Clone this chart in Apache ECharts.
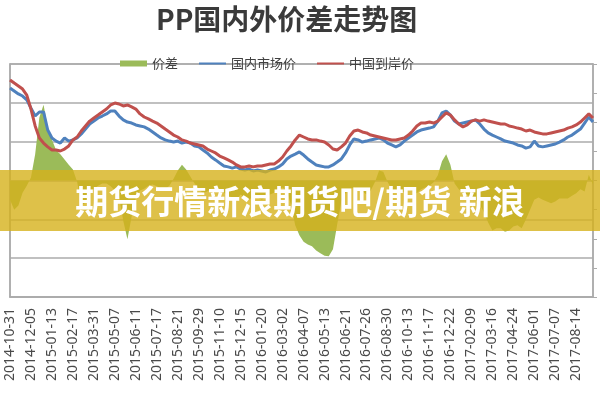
<!DOCTYPE html>
<html>
<head>
<meta charset="utf-8">
<script src="https://cdn.jsdelivr.net/npm/echarts@6/dist/echarts.min.js"></script>
<style>
  html, body { margin: 0; padding: 0; background: #fff; }
  #main { width: 600px; height: 400px; }
</style>
</head>
<body>
<div id="main"></div>
<script>
// 坐标轴上显示的日期（每 5 个数据点一个）
const tickLabels = [
  "2014-10-31", "2014-12-05", "2015-01-13", "2015-02-17", "2015-03-31",
  "2015-05-07", "2015-06-11", "2015-07-17", "2015-08-21", "2015-09-29",
  "2015-11-10", "2015-12-15", "2016-01-20", "2016-03-02", "2016-04-07",
  "2016-05-13", "2016-06-21", "2016-07-26", "2016-08-30", "2016-10-13",
  "2016-11-17", "2016-12-22", "2017-02-09", "2017-03-16", "2017-04-24",
  "2017-06-01", "2017-07-07", "2017-08-14",
];
const pointsPerLabel = 5;

// 国内市场价
const domestic = [
  10760, 10610, 10460, 10350, 10150, 9730, 9320, 9530, 9530, 8600,
  8190, 8030, 7930, 8190, 8030, 8090, 8190, 8400, 8650, 8910,
  9060, 9220, 9320, 9430, 9580, 9580, 9320, 9120, 9010, 8960,
  8860, 8810, 8760, 8650, 8500, 8340, 8190, 8090, 8030, 7980,
  8030, 7930, 7980, 7930, 7780, 7730, 7570, 7420, 7210, 7060,
  6900, 6750, 6700, 6640, 6700, 6590, 6540, 6590, 6490, 6540,
  6490, 6440, 6540, 6590, 6700, 6850, 7110, 7260, 7360, 7470,
  7310, 7110, 6950, 6800, 6750, 6700, 6700, 6800, 6950, 7110,
  7420, 7830, 8140, 8090, 7980, 8030, 8090, 8140, 8190, 8090,
  7930, 7830, 7730, 7830, 8030, 8190, 8340, 8500, 8600, 8650,
  8700, 8760, 9060, 9480, 9580, 9370, 9060, 8910, 8960, 9010,
  9060, 9120, 8910, 8650, 8450, 8340, 8240, 8140, 8030, 7980,
  7930, 7830, 7780, 7670, 7730, 8030, 7780, 7730, 7780, 7830,
  7880, 7980, 8090, 8240, 8340, 8500, 8650, 8960, 9270, 9010,
];

// 中国到岸价
const cifChina = [
  11180, 11020, 10870, 10710, 10400, 9680, 8810, 8190, 7930, 7730,
  7570, 7570, 7520, 7620, 7780, 8090, 8240, 8550, 8810, 9060,
  9220, 9370, 9530, 9680, 9890, 9990, 9940, 9840, 9890, 9790,
  9680, 9430, 9270, 9170, 9060, 8960, 8810, 8650, 8500, 8340,
  8240, 8090, 8030, 7930, 7880, 7830, 7780, 7620, 7520, 7420,
  7260, 7160, 7060, 6950, 6800, 6700, 6700, 6750, 6700, 6750,
  6750, 6800, 6850, 6850, 7000, 7210, 7520, 7780, 8090, 8340,
  8240, 8140, 8090, 8090, 8030, 7980, 7830, 7620, 7570, 7730,
  7930, 8290, 8550, 8600, 8500, 8450, 8340, 8290, 8240, 8190,
  8140, 8090, 8090, 8140, 8190, 8340, 8550, 8810, 8960, 8960,
  9010, 8960, 9060, 9270, 9480, 9370, 9120, 8910, 8760, 8860,
  9060, 9120, 9060, 9120, 9060, 9010, 8960, 8910, 8910, 8810,
  8760, 8700, 8650, 8550, 8600, 8500, 8450, 8400, 8400, 8450,
  8500, 8550, 8600, 8700, 8760, 8860, 9010, 9220, 9430, 9220,
];

// 价差（右轴）
const spread = [
  -330, -500, -430, -210, -90, 50, 450, 1080, 1300, 910,
  700, 520, 450, 360, 270, 190, -20, -430, -380, -210,
  -140, -90, -50, -50, -100, -170, -270, -690, -1010, -620,
  -290, -170, -140, -90, -70, -100, -140, -150, -90, 30,
  170, 270, 190, 70, -50, -140, -220, -190, -140, -140,
  -170, -210, -260, -290, -330, -240, -290, -330, -270, -290,
  -330, -290, -240, -210, -150, -120, -190, -410, -770, -940,
  -1050, -1100, -1130, -1200, -1250, -1290, -1300, -1180, -760, -360,
  -220, -150, -120, -150, -190, -240, -170, -30, 170, 150,
  -20, -150, -210, -220, -190, -150, -190, -220, -150, -120,
  -90, -30, 90, 330, 450, 270, -50, -150, -210, -240,
  -290, -330, -410, -550, -720, -860, -820, -820, -880, -860,
  -790, -770, -820, -670, -500, -330, -290, -330, -360, -390,
  -360, -310, -310, -310, -260, -220, -150, -190, 100, -70,
];

const categories = domestic.map((v, i) =>
  i % pointsPerLabel === 0 ? (tickLabels[i / pointsPerLabel] || "") : ""
);

const cjk = "Noto Sans CJK SC";
const gridColor = "#ababab";

const chart = echarts.init(document.getElementById("main"));

const option = {
  animation: false,
  backgroundColor: "#fff",
  title: {
    text: "PP国内外价差走势图",
    left: 151,
    top: 0,
    textStyle: {
      fontFamily: cjk,
      fontSize: 28,
      fontWeight: "bold",
      color: "#3a3a3a",
    },
  },
  legend: {
    top: 52,
    left: 115,
    itemWidth: 27,
    itemHeight: 6,
    itemGap: 20,
    textStyle: { fontFamily: cjk, fontSize: 13, color: "#404040" },
    data: [
      { name: "价差", icon: "rect" },
      { name: "国内市场价", itemStyle: { opacity: 0 } },
      { name: "中国到岸价", itemStyle: { opacity: 0 } },
    ],
  },
  grid: {
    left: 10,
    right: 7,
    top: 64,
    bottom: 103,
    show: true,
    borderColor: gridColor,
    borderWidth: 1.5,
  },
  xAxis: {
    type: "category",
    data: categories,
    boundaryGap: false,
    axisLine: { lineStyle: { color: gridColor, width: 1.5 } },
    axisTick: { show: false },
    axisLabel: {
      interval: pointsPerLabel - 1,
      rotate: 90,
      margin: 11,
      fontFamily: "Noto Sans",
      fontSize: 14,
      color: "#4a4a4a",
    },
  },
  yAxis: [
    {
      type: "value",
      min: 0,
      max: 12000,
      interval: 2000,
      axisLine: { show: true, lineStyle: { color: gridColor, width: 1.5 } },
      axisTick: { show: false },
      axisLabel: { show: false },
      splitLine: { lineStyle: { color: gridColor, width: 1.5 } },
    },
    {
      type: "value",
      min: -2000,
      max: 2000,
      interval: 500,
      axisLine: { show: true, lineStyle: { color: gridColor, width: 1.5 } },
      axisTick: { show: true, length: 4, lineStyle: { color: gridColor } },
      axisLabel: { show: false },
      splitLine: { show: false },
    },
  ],
  series: [
    {
      name: "价差",
      type: "line",
      yAxisIndex: 1,
      data: spread,
      showSymbol: false,
      symbol: "none",
      lineStyle: { width: 0 },
      itemStyle: { color: "#9bbb59" },
      areaStyle: { color: "#9bbb59", opacity: 1 },
    },
    {
      name: "国内市场价",
      type: "line",
      data: domestic,
      showSymbol: false,
      symbol: "none",
      lineStyle: { width: 3, color: "#4f81bd" },
      itemStyle: { color: "#4f81bd" },
    },
    {
      name: "中国到岸价",
      type: "line",
      data: cifChina,
      showSymbol: false,
      symbol: "none",
      lineStyle: { width: 3, color: "#c0504d" },
      itemStyle: { color: "#c0504d" },
    },
  ],
  // 水印横条
  graphic: [
    {
      type: "rect",
      z: 100,
      shape: { x: 0, y: 170, width: 600, height: 61 },
      style: { fill: "rgba(214,178,28,0.8)" },
    },
    {
      type: "text",
      z: 101,
      x: 300,
      y: 201,
      style: {
        text: "期货行情新浪期货吧/期货 新浪",
        fill: "#fff",
        font: "bold 33px 'Noto Sans CJK SC'",
        align: "center",
        verticalAlign: "middle",
      },
    },
  ],
};

chart.setOption(option);
</script>
</body>
</html>
